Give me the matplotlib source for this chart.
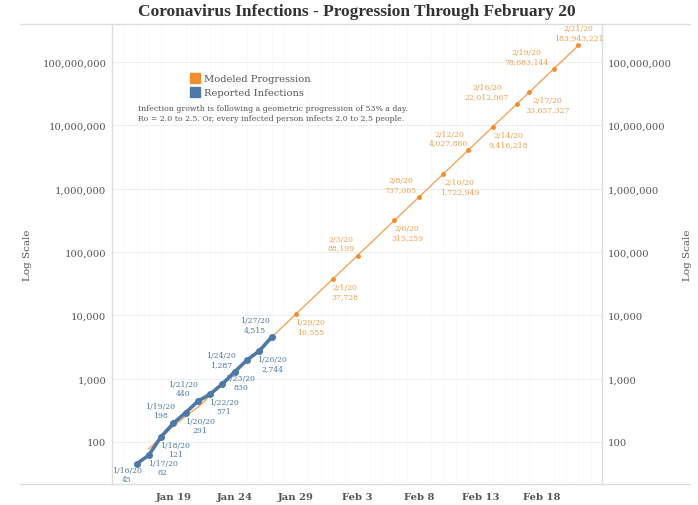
#
# Coronavirus infections, reported vs modeled progression (log scale)
#
import datetime as dt
import matplotlib.pyplot as plt
import matplotlib.dates as mdates
from matplotlib.lines import Line2D
from matplotlib.ticker import FixedLocator, FuncFormatter, NullLocator

reported_dates = ['2020-01-16', '2020-01-17', '2020-01-18', '2020-01-19',
                  '2020-01-20', '2020-01-21', '2020-01-22', '2020-01-23',
                  '2020-01-24', '2020-01-25', '2020-01-26', '2020-01-27']
reported_values = [45, 62, 121, 198, 291, 440, 571, 830, 1287, 1975, 2744, 4515]

# early part of the model (no labels shown)
model_early_dates = ['2020-01-17', '2020-01-18', '2020-01-19', '2020-01-20',
                     '2020-01-21', '2020-01-22', '2020-01-23', '2020-01-24',
                     '2020-01-25', '2020-01-26', '2020-01-27', '2020-01-28']
model_early_values = [78, 118, 178, 255, 355, 540, 823, 1259, 1926, 2947, 4509, 6899]

# labelled model points
model_dates = ['2020-01-29', '2020-02-01', '2020-02-03', '2020-02-06',
               '2020-02-08', '2020-02-10', '2020-02-12', '2020-02-14',
               '2020-02-16', '2020-02-17', '2020-02-19', '2020-02-21']
model_values = [10555, 37728, 88199, 315259, 737005, 1722949, 4027860,
                9416218, 22012967, 33657327, 78683144, 183943221]

y_ticks = [100, 1000, 10000, 100000, 1000000, 10000000, 100000000]
x_ticks = ['2020-01-19', '2020-01-24', '2020-01-29', '2020-02-03',
           '2020-02-08', '2020-02-13', '2020-02-18']

title = 'Coronavirus Infections - Progression Through February 20'
note = ('Infection growth is following a geometric progression of 53% a day.\n'
        'Ro = 2.0 to 2.5. Or, every infected person infects 2.0 to 2.5 people.')

BLUE = '#4e79a7'
ORANGE = '#f28e2b'
ORANGE_LINE = '#f5a55a'
ORANGE_TXT = '#eea050'
GREY = '#555555'
FONT = 'DejaVu Serif'


def to_dates(lst):
    return [dt.datetime.strptime(d, '%Y-%m-%d') for d in lst]


def label_text(d, v):
    return f'{d.month}/{d.day}/{d.year % 100}\n{v:,}'


# label offsets in pixels (dx, dy, va)
label_pos = {
    '2020-01-16': (-10, -2, 'top'),
    '2020-01-17': (14, -4, 'top'),
    '2020-01-18': (14, -4, 'top'),
    '2020-01-19': (-13, 4, 'bottom'),
    '2020-01-20': (14, -4, 'top'),
    '2020-01-21': (-15, 4, 'bottom'),
    '2020-01-22': (14, -4, 'top'),
    '2020-01-23': (18, 1, 'center'),
    '2020-01-24': (-14, 4, 'bottom'),
    '2020-01-26': (13, -4, 'top'),
    '2020-01-27': (-17, 4, 'bottom'),
    '2020-01-29': (14, -4, 'top'),
    '2020-02-01': (12, -4, 'top'),
    '2020-02-03': (-16, 4, 'bottom'),
    '2020-02-06': (13, -4, 'top'),
    '2020-02-08': (-18, 4, 'bottom'),
    '2020-02-10': (16, -4, 'top'),
    '2020-02-12': (-19, 4, 'bottom'),
    '2020-02-14': (16, -4, 'top'),
    '2020-02-16': (-30, 4, 'bottom'),
    '2020-02-17': (18, -4, 'top'),
    '2020-02-19': (-27, 4, 'bottom'),
    '2020-02-21': (0, 4, 'bottom'),
}

plt.rcParams['font.family'] = FONT

fig = plt.figure(figsize=(6.98, 5.06), dpi=100)
ax = fig.add_axes([112 / 698, 21 / 506, 490 / 698, 460 / 506])

rd = to_dates(reported_dates)
md_early = to_dates(model_early_dates)
md = to_dates(model_dates)

# modeled progression
ax.plot(md_early + md, model_early_values + model_values, color=ORANGE_LINE,
        linewidth=1.0, zorder=2)
ax.plot(md, model_values, 'o', color=ORANGE, markersize=2.5, zorder=3)

# reported infections
ax.plot(rd, reported_values, '-o', color=BLUE, linewidth=2.6,
        markersize=4, zorder=4)

for d, v, ds in zip(rd, reported_values, reported_dates):
    if ds not in label_pos:
        continue
    dx, dy, va = label_pos[ds]
    ax.annotate(label_text(d, v), (d, v), xytext=(dx, dy),
                textcoords='offset pixels', ha='center', va=va,
                fontsize=5.6, color=BLUE, linespacing=1.15, zorder=5)

for d, v, ds in zip(md, model_values, model_dates):
    dx, dy, va = label_pos[ds]
    ax.annotate(label_text(d, v), (d, v), xytext=(dx, dy),
                textcoords='offset pixels', ha='center', va=va,
                fontsize=5.6, color=ORANGE_TXT, linespacing=1.15, zorder=5)

ax.set_yscale('log')
ax.set_ylim(21.7, 4.0e8)
ax.set_xlim(dt.datetime(2020, 1, 14), dt.datetime(2020, 2, 22, 22))

ax.yaxis.set_major_locator(FixedLocator(y_ticks))
ax.yaxis.set_minor_locator(NullLocator())
ax.yaxis.set_major_formatter(FuncFormatter(lambda v, p: f'{int(v):,}'))
ax.xaxis.set_major_locator(FixedLocator(mdates.date2num(to_dates(x_ticks))))
ax.xaxis.set_major_formatter(mdates.DateFormatter('%b %-d'))
ax.xaxis.set_minor_locator(mdates.DayLocator())

ax.tick_params(axis='y', which='both', length=0, labelsize=7.2,
               labelcolor=GREY, labelright=True, pad=4)
ax.tick_params(axis='x', which='both', length=0, labelsize=7.2,
               labelcolor=GREY, pad=6)
for lab in ax.get_xticklabels():
    lab.set_fontweight('semibold')

ax.grid(axis='y', which='major', color='#eeeeee', linewidth=0.8)
ax.grid(axis='x', which='minor', color='#fafafa', linewidth=0.6)
ax.set_axisbelow(True)

for side in ['top', 'bottom']:
    ax.spines[side].set_visible(False)
for side in ['left', 'right']:
    ax.spines[side].set_color('#dddddd')
    ax.spines[side].set_linewidth(1.0)

# long frame lines at top and bottom
for y in [1 - 25 / 506, 21 / 506]:
    fig.add_artist(Line2D([20 / 698, 690 / 698], [y, y], color='#dddddd',
                          linewidth=1.0, transform=fig.transFigure))

fig.text(357 / 698, 1 - 12 / 506, title, ha='center', va='center',
         fontsize=12.5, fontweight='bold', color='#333333',
         family='Liberation Serif')
fig.text(28 / 698, 1 - 255 / 506, 'Log Scale', rotation=90, ha='center',
         va='center', fontsize=7.5, color=GREY)
fig.text(688 / 698, 1 - 255 / 506, 'Log Scale', rotation=90, ha='center',
         va='center', fontsize=7.5, color=GREY)

# legend and note
legend_items = [('Modeled Progression', ORANGE), ('Reported Infections', BLUE)]
for i, (name, c) in enumerate(legend_items):
    yy = 1 - (79 + i * 14) / 506
    fig.patches.append(plt.Rectangle((190 / 698, yy - 4.5 / 506), 10 / 698,
                                     10 / 506, color=c,
                                     transform=fig.transFigure))
    fig.text(204 / 698, yy, name, ha='left', va='center', fontsize=7.1,
             color=GREY)
fig.text(138 / 698, 1 - 114 / 506, note, ha='left', va='center',
         fontsize=5.6, color=GREY, linespacing=1.4)

plt.savefig('out.png', dpi=100)
